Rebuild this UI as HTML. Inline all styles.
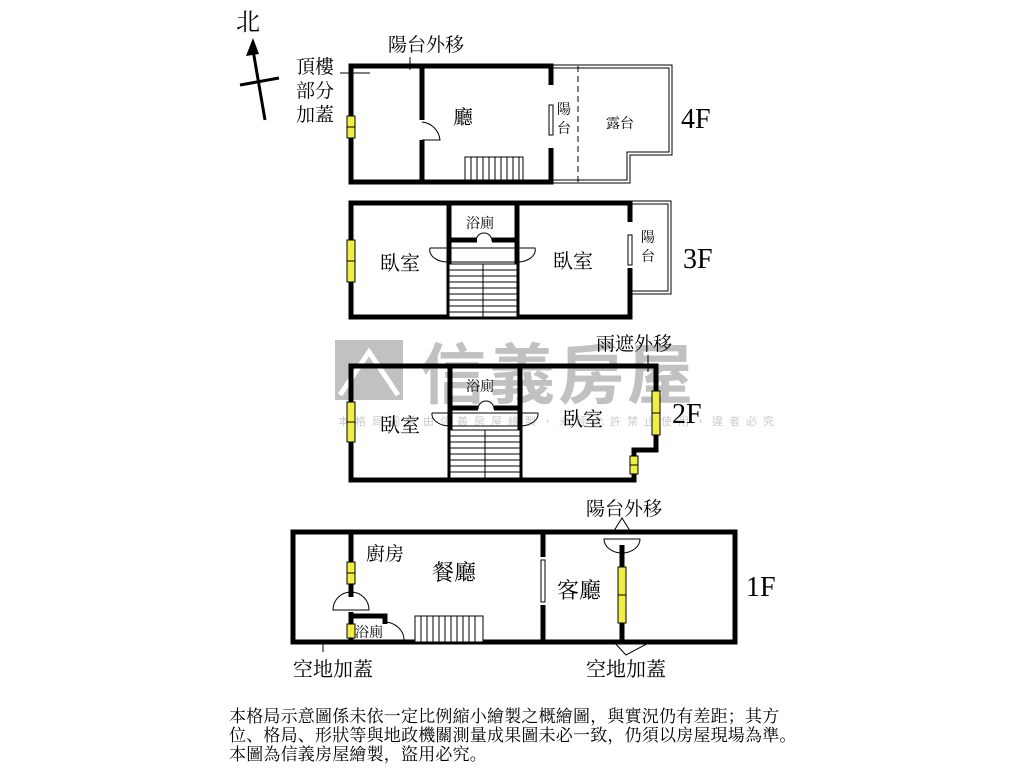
<!DOCTYPE html>
<html><head><meta charset="utf-8"><style>
html,body{margin:0;padding:0;background:#fff;width:1024px;height:768px;overflow:hidden}
svg{display:block}
text{font-family:"Liberation Serif","Noto Serif CJK SC","Noto Sans CJK TC",serif;fill:#000}
.c{font-family:"Liberation Sans","Noto Sans CJK TC",sans-serif}
.w{stroke:#000;stroke-width:5;fill:none}
.t{stroke:#000;stroke-width:1;fill:none}
.y{fill:#ee4;stroke:#000;stroke-width:1}
</style></head><body>
<svg width="1024" height="768" viewBox="0 0 1024 768">
<!-- watermark -->
<g opacity="0.6">
<rect x="335" y="340" width="68" height="60" fill="#999"/>
<path d="M340 395 L369 352 L398 395" stroke="#fff" stroke-width="5" fill="none"/>
<text x="420" y="398" class="c" font-size="66" style="fill:#999" font-weight="bold" letter-spacing="3">信義房屋</text>
<text x="338" y="425" class="c" font-size="11" style="fill:#aaa" letter-spacing="6">本格局圖係由信義房屋繪製，未經允許禁止使用，違者必究</text>
</g>
<!-- north -->
<text x="236" y="30" font-size="24">北</text>
<path d="M265 120 L253 50" stroke="#000" stroke-width="3"/>
<path d="M253 38 L246 56 L259 54 Z" fill="#000"/>
<path d="M240 85 L279 78" stroke="#000" stroke-width="3"/>

<!-- 4F -->
<path class="t" d="M551 65 H672 V155 H630 V183 H551"/>
<path class="t" d="M551 68 H669 V152 H627 V180 H551"/>
<path d="M578 66 V182" stroke="#000" stroke-dasharray="6,4"/>
<path class="w" d="M551 85 V66 H351 V182 H551 V148"/>
<path class="w" d="M422 66 V120 M422 140 V182"/>
<path class="t" d="M422 122 A20 20 0 0 1 440 140 H422"/>
<rect x="549" y="105" width="4" height="30" fill="#fff" stroke="#000"/>
<rect x="465" y="157" width="58" height="23" fill="#fff" stroke="#000"/>
<path class="t" d="M471 157V180M477 157V180M483 157V180M489 157V180M495 157V180M501 157V180M507 157V180M513 157V180M519 157V180"/>
<rect class="y" x="347" y="116" width="8" height="22"/><path d="M347 127 H355" stroke="#000"/>
<path d="M340 73 H370 M410 57 V70" stroke="#000"/>
<text x="388" y="51" font-size="19">陽台外移</text>
<text x="296" y="73" font-size="19">頂樓</text>
<text x="296" y="97" font-size="19">部分</text>
<text x="296" y="121" font-size="19">加蓋</text>
<text x="453" y="124" font-size="20">廳</text>
<text x="557" y="114" font-size="14">陽</text>
<text x="557" y="133" font-size="14">台</text>
<text x="606" y="128" font-size="14">露台</text>
<text x="681" y="128" font-size="28">4F</text>

<!-- 3F -->
<path class="t" d="M630 201 H671 V294 H630"/>
<path class="t" d="M630 204 H668 V291 H630"/>
<path class="w" d="M630 222 V203 H351 V317 H630 V268"/>
<path class="w" d="M449 203 V317 M517 203 V317 M449 240 H477 M492 240 H517"/>
<rect x="628" y="235" width="4" height="30" fill="#fff" stroke="#000"/>
<rect class="y" x="347" y="240" width="8" height="42"/><path d="M347 261 H355" stroke="#000"/>
<path class="t" d="M430 248 H535 A18 12 0 0 1 517 262 H449 A18 12 0 0 1 430 248"/>
<path class="t" d="M476 241 A8 8 0 0 1 492 241"/>
<rect x="449" y="264" width="68" height="53" fill="#fff" stroke="#000"/>
<path class="t" d="M483 264V317 M449 270H517M449 276H517M449 282H517M449 288H517M449 294H517M449 300H517M449 306H517M449 312H517"/>
<text x="466" y="228" font-size="14">浴廁</text>
<text x="380" y="270" font-size="20">臥室</text>
<text x="553" y="268" font-size="20">臥室</text>
<text x="641" y="242" font-size="14">陽</text>
<text x="641" y="261" font-size="14">台</text>
<text x="683" y="268" font-size="28">3F</text>

<!-- 2F -->
<path class="w" d="M351 366 H656 V450 H634 V480 H351 Z"/>
<path class="w" d="M450 366 V480 M520 366 V480 M450 408 H478 M494 408 H520"/>
<path class="t" d="M432 413 H538 A18 12 0 0 1 520 426 H450 A18 12 0 0 1 432 413"/>
<path class="t" d="M478 409 A8 8 0 0 1 494 409"/>
<rect x="450" y="430" width="70" height="48" fill="#fff" stroke="#000"/>
<path class="t" d="M485 430V478 M450 436H520M450 442H520M450 448H520M450 454H520M450 460H520M450 466H520M450 472H520"/>
<rect class="y" x="347" y="402" width="8" height="40"/><path d="M347 422 H355" stroke="#000"/>
<rect class="y" x="652" y="391" width="8" height="44"/><path d="M652 413 H660" stroke="#000"/>
<rect class="y" x="630" y="456" width="8" height="18"/><path d="M630 465 H638" stroke="#000"/>
<path d="M648 355 V372" stroke="#000"/>
<text x="596" y="350" font-size="19">雨遮外移</text>
<text x="466" y="391" font-size="14">浴廁</text>
<text x="380" y="432" font-size="20">臥室</text>
<text x="563" y="426" font-size="20">臥室</text>
<text x="672" y="423" font-size="28">2F</text>

<!-- 1F -->
<path class="w" d="M293 532 H735 V642 H293 Z"/>
<path class="w" d="M351 532 V597 M351 612 V642 M543 532 V557 M543 605 V642 M622 545 V642 M351 616 H385 V624"/>
<rect x="541" y="560" width="4" height="42" fill="#fff" stroke="#000"/>
<path class="t" d="M333 610 A18 18 0 0 1 369 610 Z"/>
<path class="t" d="M385 640 A20 18 0 0 0 404 640 M385 622 A20 18 0 0 1 404 640 H385"/>
<path class="t" d="M604 539 A18 14 0 0 0 640 539 Z M612 534 L622 518 L632 534"/>
<rect x="415" y="616" width="68" height="26" fill="#fff" stroke="#000"/>
<path class="t" d="M421 616V642M427 616V642M433 616V642M439 616V642M445 616V642M451 616V642M457 616V642M463 616V642M469 616V642M475 616V642"/>
<rect class="y" x="347" y="562" width="8" height="22"/><path d="M347 573 H355" stroke="#000"/>
<rect class="y" x="347" y="624" width="8" height="14"/>
<rect class="y" x="618" y="567" width="8" height="56"/><path d="M618 595 H626" stroke="#000"/>
<path d="M323 640 V652 M612 640 L626 655 L654 640" stroke="#000" fill="none"/>
<text x="586" y="515" font-size="19">陽台外移</text>
<text x="366" y="560" font-size="19">廚房</text>
<text x="432" y="580" font-size="22">餐廳</text>
<text x="557" y="598" font-size="22">客廳</text>
<text x="355" y="637" font-size="14">浴廁</text>
<text x="746" y="596" font-size="28">1F</text>
<text x="293" y="676" font-size="20">空地加蓋</text>
<text x="586" y="676" font-size="20">空地加蓋</text>

<!-- footnote -->
<text x="229" y="722" font-size="17" letter-spacing="0.2">本格局示意圖係未依一定比例縮小繪製之概繪圖，與實況仍有差距；其方</text>
<text x="229" y="741" font-size="17" letter-spacing="0.2">位、格局、形狀等與地政機關測量成果圖未必一致，仍須以房屋現場為準。</text>
<text x="229" y="760" font-size="17" letter-spacing="0.2">本圖為信義房屋繪製，盜用必究。</text>
</svg>
</body></html>
